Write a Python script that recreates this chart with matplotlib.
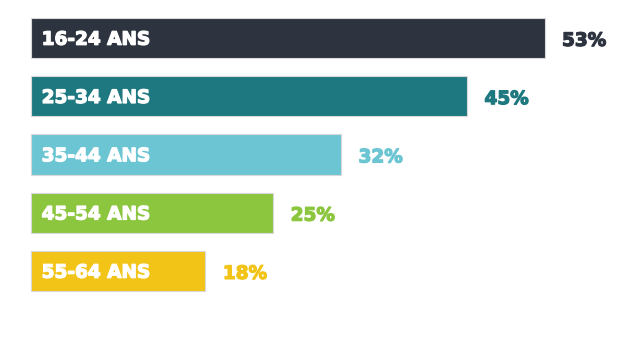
import matplotlib
matplotlib.use("Agg")
import matplotlib.pyplot as plt
import matplotlib.patheffects as pe

labels = ["16-24 ANS", "25-34 ANS", "35-44 ANS", "45-54 ANS", "55-64 ANS"]
values = [53, 45, 32, 25, 18]
colors = ["#2d3440", "#1e7880", "#6bc5d2", "#8cc63f", "#f2c418"]

fig = plt.figure(figsize=(6.18, 3.57), dpi=100)
ax = fig.add_axes([0, 0, 1, 1])

pos = list(range(len(values)))
ax.barh(pos, values, height=0.69, color=colors, edgecolor="#d8d8d8", linewidth=0.8)

for p, v, lab, c in zip(pos, values, labels, colors):
    ax.text(1.1, p + 0.03, lab, color="white", fontsize=13.3, fontweight="bold",
            family="DejaVu Sans", va="center", ha="left",
            path_effects=[pe.withStroke(linewidth=0.9, foreground="white")])
    ax.text(v + 1.8, p + 0.05, f"{v}%", color=c, fontsize=13.3, fontweight="bold",
            family="DejaVu Sans", va="center", ha="left",
            path_effects=[pe.withStroke(linewidth=0.9, foreground=c)])

px = 9.69
ax.set_xlim(-31 / px, (618 - 31) / px)
ax.set_ylim(-38 / 58.25, (357 - 38) / 58.25)
ax.invert_yaxis()
ax.axis("off")

fig.savefig("out.png", dpi=100)
